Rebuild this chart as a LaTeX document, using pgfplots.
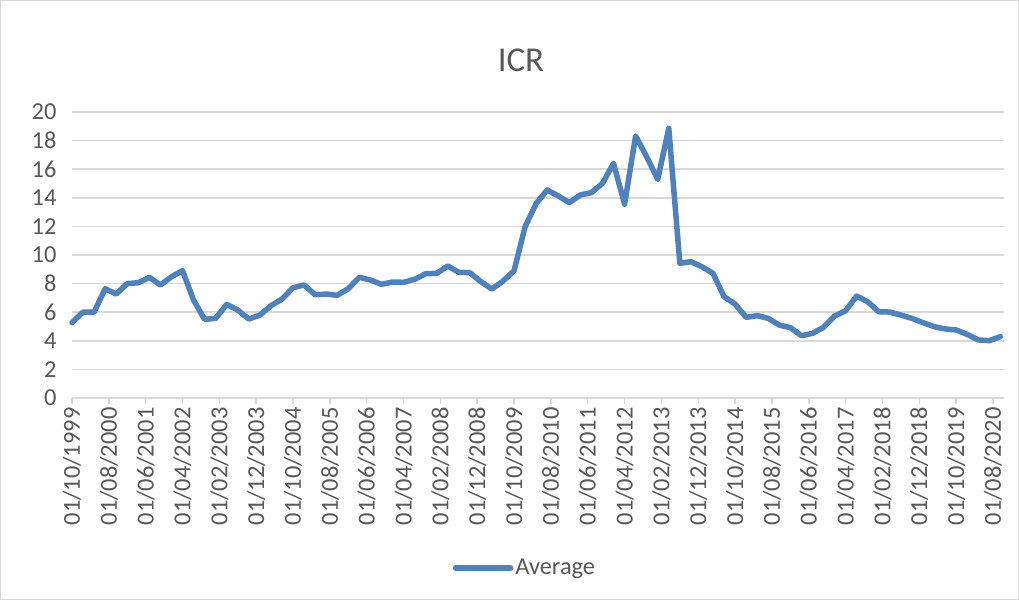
\documentclass[border=0pt]{standalone}
\usepackage{fontspec}
\setmainfont{Carlito}
\usepackage{pgfplots}
\pgfplotsset{compat=1.18}
\definecolor{lineblue}{RGB}{79,129,189}
\definecolor{textgray}{RGB}{89,89,89}
\definecolor{gridgray}{RGB}{217,217,217}
\begin{document}
\begin{tikzpicture}
\path[use as bounding box] (0,0) rectangle (1019bp,600bp);
\draw[gridgray,line width=1bp] (0.5bp,0.5bp) rectangle (1018.5bp,599.5bp);
\node[font=\fontsize{35}{40}\selectfont,text=textgray] at (521bp,540bp) {ICR};
\begin{axis}[
  at={(72bp,202bp)},anchor=south west,
  scale only axis,width=932bp,height=286bp,
  xmin=0,xmax=253,ymin=0,ymax=20,
  ytick={0,2,...,20},
  xtick={0,10,...,250},
  xticklabels={01/10/1999,01/08/2000,01/06/2001,01/04/2002,01/02/2003,01/12/2003,01/10/2004,01/08/2005,01/06/2006,01/04/2007,01/02/2008,01/12/2008,01/10/2009,01/08/2010,01/06/2011,01/04/2012,01/02/2013,01/12/2013,01/10/2014,01/08/2015,01/06/2016,01/04/2017,01/02/2018,01/12/2018,01/10/2019,01/08/2020},
  axis x line*=bottom,axis y line*=left,
  y axis line style={draw=none},
  x axis line style={gridgray,line width=1.5bp,-},
  ymajorgrids,grid style={gridgray,line width=1.5bp},
  tick align=outside,major tick length=6bp,
  xtick style={gridgray,line width=1.5bp},
  ytick style={draw=none},
  /pgf/number format/assume math mode=true,
  tick label style={font=\fontsize{24.5}{27}\selectfont,text=textgray},
  xticklabel style={rotate=90,anchor=east},
  yticklabel style={xshift=-6bp},
  clip=false,
  legend style={at={(0.486,-0.594)},anchor=center,draw=none,fill=none,
    font=\fontsize{24.5}{27}\selectfont,text=textgray},
  legend image code/.code={\draw[#1] (0bp,0bp) -- (55bp,0bp);},
]
\addplot[lineblue,line width=5.5bp,line join=round,line cap=round] coordinates {
(0,5.27)(3,6.01)(6,6.00)(9,7.64)(12,7.27)(15,8.00)(18,8.06)(21,8.44)(24,7.90)(27,8.48)
(30,8.90)(33,6.85)(36,5.50)(39,5.57)(42,6.55)(45,6.15)(48,5.52)(51,5.80)(54,6.45)(57,6.92)
(60,7.71)(63,7.90)(66,7.22)(69,7.27)(72,7.18)(75,7.64)(78,8.44)(81,8.25)(84,7.95)(87,8.11)
(90,8.09)(93,8.30)(96,8.69)(99,8.72)(102,9.23)(105,8.79)(108,8.76)(111,8.13)(114,7.62)(117,8.18)
(120,8.90)(123,11.98)(126,13.60)(129,14.55)(132,14.13)(135,13.66)(138,14.20)(141,14.36)(144,15.01)(147,16.41)
(150,13.55)(153,18.32)(156,16.87)(159,15.29)(162,18.86)(165,9.42)(168,9.53)(171,9.18)(174,8.72)(177,7.08)
(180,6.57)(183,5.64)(186,5.76)(189,5.57)(192,5.10)(195,4.92)(198,4.36)(201,4.52)(204,4.94)(207,5.73)
(210,6.10)(213,7.13)(216,6.73)(219,6.03)(222,6.01)(225,5.80)(228,5.57)(231,5.27)(234,4.99)(237,4.83)
(240,4.76)(243,4.45)(246,4.06)(249,4.01)(252,4.29)
};
\legend{Average}
\end{axis}
\end{tikzpicture}
\end{document}
